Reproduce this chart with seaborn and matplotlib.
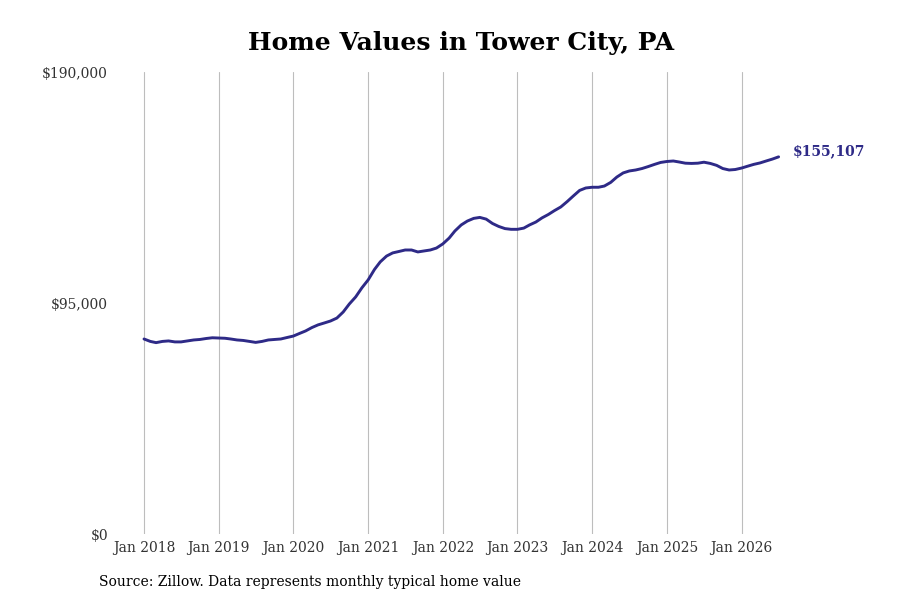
import matplotlib
matplotlib.use("Agg")
import matplotlib.pyplot as plt
import matplotlib.dates as mdates
import matplotlib.ticker as mticker
import seaborn as sns
import pandas as pd
import numpy as np

# ---- data (monthly typical home value, $ thousands) ----
start_month = "2018-01-01"
values_k = [
    80.2, 79.2, 78.7, 79.2, 79.4, 79.0, 79.0, 79.4, 79.8, 80.0, 80.4, 80.7,
    80.6, 80.5, 80.2, 79.8, 79.6, 79.2, 78.8, 79.2, 79.8, 80.0, 80.2, 80.8,
    81.4, 82.5, 83.5, 84.9, 86.0, 86.8, 87.6, 88.8, 91.3, 94.6, 97.5, 101.2,
    104.5, 108.8, 111.9, 114.3, 115.6, 116.2, 116.8, 116.8, 116.0, 116.4, 116.8, 117.6,
    119.3, 121.7, 124.6, 127.1, 128.7, 129.8, 130.2, 129.5, 127.7, 126.5, 125.6, 125.3,
    125.3, 125.8, 127.1, 128.3, 130.0, 131.4, 133.0, 134.5, 136.7, 139.0, 141.3, 142.3,
    142.6, 142.6, 143.1, 144.6, 146.8, 148.5, 149.3, 149.7, 150.3, 151.1, 152.0, 152.8,
    153.2, 153.4, 153.0, 152.5, 152.4, 152.5, 152.9, 152.4, 151.6, 150.3, 149.7, 149.9,
    150.5, 151.3, 152.0, 152.6, 153.4, 154.2, 155.107,
]
y_ticks = [0, 95000, 190000]
x_tick_years = list(range(2018, 2027))
title = "Home Values in Tower City, PA"
source = "Source: Zillow. Data represents monthly typical home value"
end_label = "$155,107"

dates = pd.date_range(start_month, periods=len(values_k), freq="MS")
df = pd.DataFrame({"date": dates, "value": np.array(values_k) * 1000})

sns.set_theme(style="white")
plt.rcParams["font.family"] = ["DejaVu Serif"]

line_color = "#2e2a87"
W, H = 900, 600
fig = plt.figure(figsize=(9, 6), dpi=100)
ax_left, ax_right, ax_top, ax_bottom = 110, 880, 72, 534
ax = fig.add_axes([ax_left / W, 1 - ax_bottom / H, (ax_right - ax_left) / W, (ax_bottom - ax_top) / H])

sns.lineplot(data=df, x="date", y="value", ax=ax, color=line_color, linewidth=2.1)

# x limits: Jan 2018 at px 144, ~74.7 px/year
px_per_day = 74.7 / 365.25
x0 = mdates.date2num(pd.Timestamp("2018-01-01"))
ax.set_xlim(x0 - (144 - ax_left) / px_per_day, x0 + (ax_right - 144) / px_per_day)
ax.set_ylim(0, 190000)

ax.set_xticks([mdates.date2num(pd.Timestamp(f"{y}-01-01")) for y in x_tick_years])
ax.set_xticklabels([f"Jan {y}" for y in x_tick_years])
ax.set_yticks(y_ticks)
ax.yaxis.set_major_formatter(mticker.FuncFormatter(lambda v, p: f"${v:,.0f}"))

ax.grid(axis="x", color="#bdbdbd", linewidth=0.8)
ax.grid(axis="y", visible=False)
for s in ax.spines.values():
    s.set_visible(False)
ax.tick_params(axis="both", length=0, labelsize=10, colors="#333333")
ax.tick_params(axis="x", pad=5)
ax.tick_params(axis="y", pad=1.5)
ax.set_xlabel("")
ax.set_ylabel("")

last = df.iloc[-1]
ax.annotate(end_label, xy=(mdates.date2num(last["date"]), last["value"]),
            xytext=(10, 4), textcoords="offset points", ha="left", va="center",
            fontsize=10, fontweight="bold", color=line_color, annotation_clip=False)

fig.text(461 / W, 1 - 43 / H, title, ha="center", va="center", fontsize=18, fontweight="bold", color="black")
fig.text(99 / W, 1 - 582 / H, source, ha="left", va="center", fontsize=10, color="black")

fig.savefig("out.png", dpi=100)
